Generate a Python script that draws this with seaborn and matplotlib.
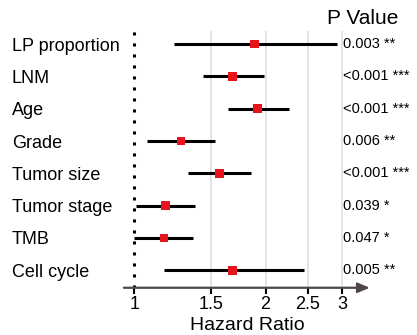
import matplotlib
matplotlib.use("Agg")
import matplotlib.pyplot as plt
import matplotlib.transforms as mtransforms
import seaborn as sns
import pandas as pd
import numpy as np

variables = ["LP proportion", "LNM", "Age", "Grade", "Tumor size",
             "Tumor stage", "TMB", "Cell cycle"]
hr = [1.89, 1.68, 1.92, 1.28, 1.57, 1.18, 1.17, 1.68]
lower = [1.23, 1.44, 1.64, 1.07, 1.33, 1.01, 1.00, 1.17]
upper = [2.91, 1.98, 2.26, 1.53, 1.85, 1.38, 1.36, 2.45]
p_labels = ["0.003 **", "<0.001 ***", "<0.001 ***", "0.006 **",
            "<0.001 ***", "0.039 *", "0.047 *", "0.005 **"]
xticks = [1, 1.5, 2, 2.5, 3]
xtick_labels = ["1", "1.5", "2", "2.5", "3"]

df = pd.DataFrame({"variable": variables, "hr": hr, "lower": lower,
                   "upper": upper, "pos": np.arange(len(variables))})

sns.set_theme(style="white")
plt.rcParams["font.family"] = ["Liberation Sans", "DejaVu Sans"]
plt.rcParams["text.color"] = "black"
plt.rcParams["axes.labelcolor"] = "black"
plt.rcParams["xtick.color"] = "black"
plt.rcParams["ytick.color"] = "black"

fig = plt.figure(figsize=(4.17, 3.35), dpi=100)
ax = fig.add_axes([0.297, 0.141, 0.590, 0.766])
ax.set_xscale("log")
ax.set_xlim(0.946, 3.47)
ax.set_ylim(7.54, -0.4)

# grid lines
for t in xticks[1:]:
    ax.axvline(t, color="#e2e2e2", lw=1.3, zorder=0)
# reference line at 1
ax.axvline(1, color="black", lw=2.2, linestyle=(0, (1, 2.6)),
           dash_capstyle="butt", zorder=1)

ax.hlines(df["pos"], df["lower"], df["upper"], color="black", lw=2.2, zorder=2)
sns.scatterplot(data=df, x="hr", y="pos", marker="s", s=40, color="#e8141b",
                edgecolor="none", linewidth=0, ax=ax, zorder=3, legend=False)

ax.set_yticks(df["pos"])
ax.set_yticklabels(variables, fontsize=13, color="black")
for lab in ax.get_yticklabels():
    lab.set_horizontalalignment("left")
ax.tick_params(axis="y", length=0, pad=80.6)

ax.set_xticks(xticks)
ax.set_xticklabels(xtick_labels, fontsize=13, color="black")
ax.xaxis.set_minor_locator(matplotlib.ticker.NullLocator())
ax.tick_params(axis="x", direction="out", length=4, width=1.5, color="black",
               pad=2, bottom=True)
ax.set_xlabel("Hazard Ratio", fontsize=14, labelpad=3, color="black")
ax.set_ylabel("")

for s in ["top", "right", "left", "bottom"]:
    ax.spines[s].set_visible(False)

ax.annotate("", xy=(1.0, 0), xytext=(0.0, 0), xycoords="axes fraction",
            arrowprops=dict(arrowstyle="-|>,head_length=0.6,head_width=0.25",
                            color="#4d4745", lw=1.6, shrinkA=0, shrinkB=0),
            annotation_clip=False)

trans = mtransforms.blended_transform_factory(ax.transData, ax.transData)
for i, p in enumerate(p_labels):
    ax.text(3.01, i, p, fontsize=10.5, ha="left", va="center", transform=trans,
            clip_on=False, color="black")

fig.text(0.785, 0.945, "P Value", fontsize=15, ha="left", va="center",
         color="black")

fig.savefig("out.png", dpi=100)
